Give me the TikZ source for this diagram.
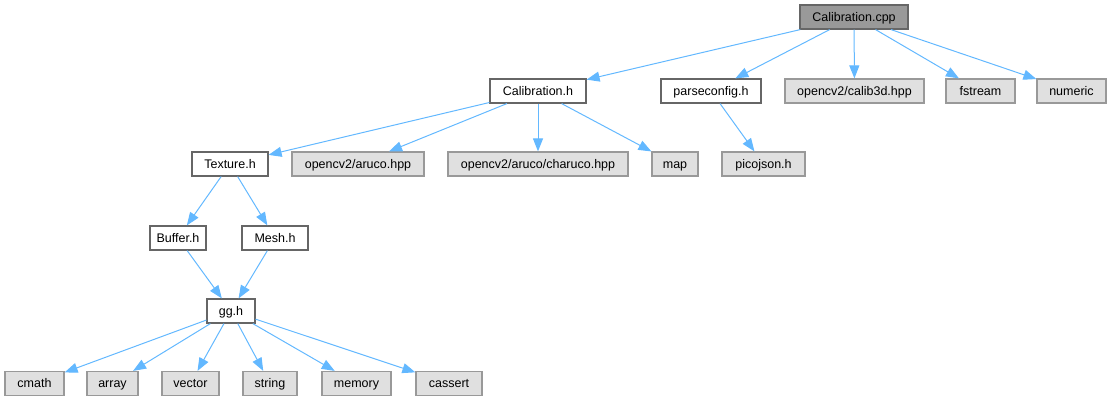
\documentclass[tikz,border=0pt]{standalone}
\usepackage{fontspec}
\setmainfont{Liberation Sans}
\usetikzlibrary{arrows.meta}
\definecolor{edgeblue}{HTML}{63B8FF}
\definecolor{extfill}{HTML}{E0E0E0}
\definecolor{extdraw}{HTML}{999999}
\definecolor{normdraw}{HTML}{666666}
\definecolor{rootfill}{HTML}{999999}
\tikzset{
  box/.style={rectangle, draw=normdraw, fill=white, line width=1.2pt, minimum height=24pt, inner sep=0pt, text height=10.5pt, text depth=2pt, font=\fontsize{12.5}{13}\selectfont},
  ext/.style={box, draw=extdraw, fill=extfill},
  root/.style={box, draw=normdraw, fill=rootfill},
  dep/.style={draw=edgeblue, line width=1pt, -{Triangle[length=13pt,width=10pt]}}
}
\begin{document}
\begin{tikzpicture}[x=1pt,y=-1pt]
\useasboundingbox (0,0) rectangle (1111,403);
\node[root, minimum width=108pt] (cpp) at (854,17) {Calibration.cpp};
\node[box, minimum width=96pt] (calh) at (538,91) {Calibration.h};
\node[box, minimum width=100pt] (parse) at (711,91) {parseconfig.h};
\node[ext, minimum width=139pt] (calib3d) at (854.5,91) {opencv2/calib3d.hpp};
\node[ext, minimum width=69pt] (fstream) at (980.5,91) {fstream};
\node[ext, minimum width=69pt] (numeric) at (1071.5,91) {numeric};
\node[box, minimum width=76pt] (texture) at (230,164) {Texture.h};
\node[ext, minimum width=132pt] (aruco) at (358,164) {opencv2/aruco.hpp};
\node[ext, minimum width=180pt] (charuco) at (538,164) {opencv2/aruco/charuco.hpp};
\node[ext, minimum width=46pt] (map) at (675,164) {map};
\node[ext, minimum width=83pt] (picojson) at (763.5,164) {picojson.h};
\node[box, minimum width=56pt] (buffer) at (178,238) {Buffer.h};
\node[box, minimum width=66pt] (mesh) at (275,238) {Mesh.h};
\node[box, minimum width=48pt] (gg) at (231,311) {gg.h};
\node[ext, minimum width=59pt] (cmath) at (34.5,383.5) {cmath};
\node[ext, minimum width=51pt] (array) at (112.5,383.5) {array};
\node[ext, minimum width=57pt] (vector) at (190.5,383.5) {vector};
\node[ext, minimum width=54pt] (string) at (270,383.5) {string};
\node[ext, minimum width=69pt] (memory) at (356.5,383.5) {memory};
\node[ext, minimum width=66pt] (cassert) at (449,383.5) {cassert};
\draw[dep] (cpp) -- (calh);
\draw[dep] (cpp) -- (parse);
\draw[dep] (cpp) -- (calib3d);
\draw[dep] (cpp) -- (fstream);
\draw[dep] (cpp) -- (numeric);
\draw[dep] (calh) -- (texture);
\draw[dep] (calh) -- (aruco);
\draw[dep] (calh) -- (charuco);
\draw[dep] (calh) -- (map);
\draw[dep] (parse) -- (picojson);
\draw[dep] (texture) -- (buffer);
\draw[dep] (texture) -- (mesh);
\draw[dep] (buffer) -- (gg);
\draw[dep] (mesh) -- (gg);
\draw[dep] (gg) -- (cmath);
\draw[dep] (gg) -- (array);
\draw[dep] (gg) -- (vector);
\draw[dep] (gg) -- (string);
\draw[dep] (gg) -- (memory);
\draw[dep] (gg) -- (cassert);
\end{tikzpicture}
\end{document}
